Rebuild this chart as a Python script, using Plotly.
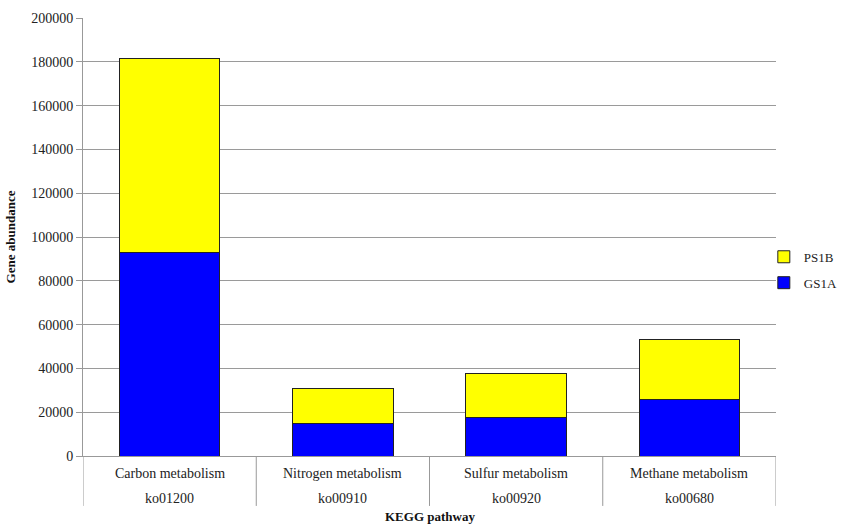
import plotly.graph_objects as go

categories = ["Carbon metabolism", "Nitrogen metabolism", "Sulfur metabolism", "Methane metabolism"]
codes = ["ko01200", "ko00910", "ko00920", "ko00680"]
gs1a = [93000, 15000, 17800, 26000]
ps1b = [88500, 15800, 20000, 27300]
yticks = [0, 20000, 40000, 60000, 80000, 100000, 120000, 140000, 160000, 180000, 200000]

FONT = "Liberation Serif"
xs = list(range(len(categories)))

fig = go.Figure()
fig.add_trace(go.Bar(x=xs, y=gs1a, name="GS1A", legendgroup="g", legendrank=2,
                     marker=dict(color="#0000FF", line=dict(color="#222222", width=1))))
fig.add_trace(go.Bar(x=xs, y=ps1b, name="PS1B", legendgroup="p", legendrank=1,
                     marker=dict(color="#FFFF00", line=dict(color="#222222", width=1))))

for i, (c, k) in enumerate(zip(categories, codes)):
    fig.add_annotation(x=i, xref="x", y=-0.04, yref="paper", text=c, showarrow=False,
                       yanchor="middle", font=dict(family=FONT, size=14, color="#222"))
    fig.add_annotation(x=i, xref="x", y=-0.097, yref="paper", text=k, showarrow=False,
                       yanchor="middle", font=dict(family=FONT, size=14, color="#222"))
for i in range(len(categories) + 1):
    fig.add_shape(type="line", xref="x", yref="paper", x0=i - 0.5, x1=i - 0.5, y0=0, y1=-0.114,
                  line=dict(color="#999999", width=1))

fig.add_annotation(x=0.5, xref="paper", y=-0.139, yref="paper", text="<b>KEGG pathway</b>", showarrow=False,
                   yanchor="middle", font=dict(family=FONT, size=13, color="#111"))

fig.update_layout(
    width=844, height=527,
    margin=dict(l=83, r=68, t=18, b=71, autoexpand=False),
    barmode="stack", bargap=0.42,
    plot_bgcolor="white", paper_bgcolor="white",
    font=dict(family=FONT, size=14, color="#222"),
    showlegend=True,
    legend=dict(xref="container", yref="container", x=0.905, y=0.488, xanchor="left", yanchor="middle",
                traceorder="grouped", font=dict(family=FONT, size=13, color="#222"),
                itemwidth=30, tracegroupgap=6, bgcolor="rgba(0,0,0,0)"),
    xaxis=dict(range=[-0.5, 3.5], showticklabels=False, showgrid=False, zeroline=False,
               showline=True, linecolor="#999999", ticks=""),
    yaxis=dict(range=[0, 200000], tickvals=yticks, ticktext=[str(v) for v in yticks],
               showgrid=True, gridcolor="#9a9a9a", gridwidth=1, zeroline=False,
               showline=True, linecolor="#999999", ticks="outside", ticklen=6, tickcolor="#999999",
               tickfont=dict(family=FONT, size=14, color="#222"),
               title=dict(text="<b>Gene abundance</b>", font=dict(family=FONT, size=13, color="#111"), standoff=12)),
)

fig.write_html("out.html")
